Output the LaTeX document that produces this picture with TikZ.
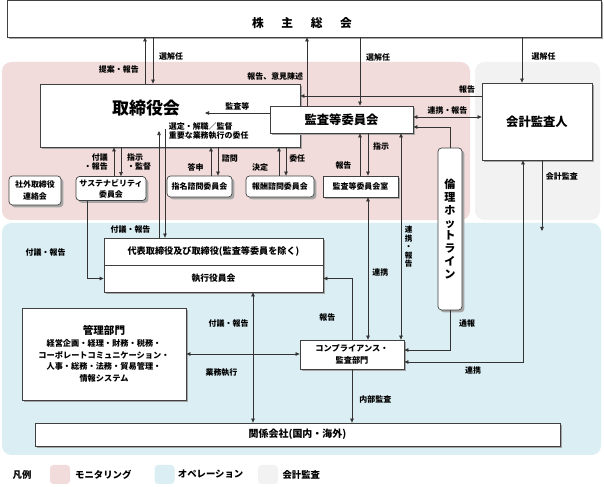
\documentclass[tikz,border=0pt]{standalone}
\usepackage{fontspec}
\setmainfont{Noto Sans CJK JP}
\usetikzlibrary{positioning}
\usetikzlibrary{arrows.meta}
\usetikzlibrary{shadows}
\definecolor{monfill}{HTML}{F2DCDB}
\definecolor{opefill}{HTML}{DAEEF3}
\definecolor{audfill}{HTML}{F2F2F2}
\newcommand{\fsz}[2]{\fontsize{#1}{#2}\selectfont\bfseries}
\tikzset{
    box/.style = {rectangle, draw=black!75, line width=0.6pt, fill=white, inner sep=0pt, align=center,
                  drop shadow={shadow xshift=2pt,shadow yshift=-2pt,opacity=1,fill=black!35}},
    rbox/.style = {box, rounded corners=3pt},
    sz/.style 2 args = {minimum width=#1*0.03cm, minimum height=#2*0.03cm},
    lbl/.style = {inner sep=1pt, align=center, font=\fsz{6.8}{8}},
    vlbl/.style = {inner sep=1pt, align=center, font=\fsz{6.5}{7.2}},
    lbl2/.style = {inner sep=1pt, font=\fsz{8}{9}},
    swatch/.style = {rectangle, rounded corners=3pt, minimum width=20*0.03cm, minimum height=19*0.03cm},
    edgen/.style = {-{Triangle[length=3.5pt,width=3pt]}, draw=black!80, line width=0.6pt},
    edged/.style = {{Triangle[length=3.5pt,width=3pt]}-{Triangle[length=3.5pt,width=3pt]}, draw=black!80, line width=0.6pt},
}
\begin{document}
\begin{tikzpicture}[x=0.03cm, y=-0.03cm]
\useasboundingbox (0,0) rectangle (604,487);
%
\path[fill=monfill, rounded corners=8pt] (2,62) rectangle (470,220);
\path[fill=audfill, rounded corners=8pt] (475,62) rectangle (600,220);
\path[fill=opefill, rounded corners=8pt] (2,223) rectangle (601,455);
%
\node[box, sz={594}{37}] at (304,18.5) (kabu) {};
\node[font=\fsz{10}{12}] at (302,23) (kabuT) {株\hspace{1.5em}主\hspace{1.5em}総\hspace{1.5em}会};
\node[box, sz={260}{63}] at (170,115.5) (tori) {};
\node[font=\fsz{14.5}{16}] at (146,108) (toriT) {取締役会};
\node[box, sz={143}{27}, font=\fsz{10.5}{12}] at (341.5,119.5) (kansa) {監査等委員会};
\node[box, sz={110}{77}, font=\fsz{10.5}{12}] at (537,121.5) (kaikei) {会計監査人};
%
\node[rbox, sz={52}{29}, font=\fsz{6.8}{10}] at (35,190.5) (shagai) {社外取締役\\連絡会};
\node[rbox, sz={70}{24}, font=\fsz{6.8}{9.5}] at (111,188.5) (sustain) {サステナビリティ\\委員会};
\node[rbox, sz={65}{21}, font=\fsz{6.8}{8}] at (199.5,186.5) (shimei) {指名諮問委員会};
\node[rbox, sz={68}{21}, font=\fsz{6.8}{8}] at (280,186.5) (houshu) {報酬諮問委員会};
\node[box, sz={75}{21}, font=\fsz{6.8}{8}] at (360.5,186.5) (kansashitsu) {監査等委員会室};
\node[rbox, sz={24}{162}, font=\fsz{9.5}{11}] at (450,229) (hotline) {倫\\理\\ホ\\ッ\\ト\\ラ\\イ\\ン};
%
\node[box, sz={219}{27}, font=\fsz{7.8}{9}] at (213.5,251.5) (daihyo) {代表取締役及び取締役(監査等委員を除く)};
\node[box, sz={219}{27}, font=\fsz{7.5}{9}] at (213.5,278.5) (shikkou) {執行役員会};
\node[box, sz={164}{92}, font=\fsz{7}{10}] at (104,354) (kanri) {{\fsz{9}{11}管理部門}\\経営企画・経理・財務・税務・\\コーポレートコミュニケーション・\\人事・総務・法務・貿易管理・\\情報システム};
\node[box, sz={104}{29}, font=\fsz{7}{10.8}] at (352,354.5) (comp) {コンプライアンス・\\監査部門};
\node[box, sz={525}{23}, font=\fsz{8.5}{10}] at (297.5,434.5) (kankei) {関係会社(国内・海外)};
%
\coordinate (toriIn) at (205,113);
\coordinate (toriUp) at (159,131);
\coordinate (toriDn) at (165,129);
\coordinate (kaAud) at (542,231);
%
\draw[edgen] (tori.north -| 145,0) -- node[lbl, left=4pt, pos=0.3] {提案・報告} (kabu.south -| 145,0);
\draw[edgen] (kabu.south -| 153,0) -- node[lbl, right=4pt, pos=0.42] {選解任} (tori.north -| 153,0);
\draw[edgen] (kansa.north -| 307,0) -- node[lbl, left=2pt, pos=0.43] {報告、意見陳述} (kabu.south -| 307,0);
\draw[edgen] (kabu.south -| 360,0) -- node[lbl, right=4pt, pos=0.29] {選解任} (kansa.north -| 360,0);
\draw[edgen] (kabu.south -| 522,0) -- node[lbl, right=7pt, pos=0.43] {選解任} (kaikei.north -| 522,0);
\draw[edgen] (kaikei.west |- 0,96) -- node[lbl, above=1pt, pos=0.08] {報告} (tori.east |- 0,96);
\draw[edged] (kansa.east |- 0,117) -- node[lbl, above=1pt] {連携・報告} (kaikei.west |- 0,117);
\draw[edgen] (hotline.north) |- (kansa.east |- 0,127);
\draw[edgen] (kansa.west |- toriIn) -- node[lbl, above=1pt] {監査等} (toriIn);
%
\draw[edgen] (sustain.north -| 114,0) -- node[lbl, left=4pt, align=right] {付議\\・報告} (tori.south -| 114,0);
\draw[edgen] (tori.south -| 121,0) -- node[lbl, right=4pt, align=left] {指示\\・監督} (sustain.north -| 121,0);
\draw[edgen] (toriDn) -- node[lbl, right=2pt, pos=0.02, align=left] {選定・解職／監督\\重要な業務執行の委任} (daihyo.north -| toriDn);
\draw[edgen] (daihyo.north -| toriUp) -- node[lbl, left=6pt, pos=0.08] {付議・報告} (toriUp);
\draw[edgen] (shimei.north -| 211,0) -- node[lbl, left=5pt, pos=0.3] {答申} (tori.south -| 211,0);
\draw[edgen] (tori.south -| 218,0) -- node[lbl, right=2pt, pos=0.38] {諮問} (shimei.north -| 218,0);
\draw[edgen] (houshu.north -| 279,0) -- node[lbl, left=8pt, pos=0.3] {決定} (tori.south -| 279,0);
\draw[edgen] (tori.south -| 286,0) -- node[lbl, right=1.5pt, pos=0.38] {委任} (houshu.north -| 286,0);
\draw[edgen] (kansa.south -| 368,0) -- node[lbl, right=3pt, pos=0.3] {指示} (kansashitsu.north -| 368,0);
\draw[edgen] (kansashitsu.north -| 360,0) -- node[lbl, left=6pt, pos=0.25] {報告} (kansa.south -| 360,0);
\draw[edged] (kansa.south -| 401,0) -- node[vlbl, right=2pt, pos=0.55] {連\\携\\・\\報\\告} (comp.north -| 401,0);
\draw[edged] (kansashitsu.south -| 368,0) -- node[lbl, right=2.5pt, pos=0.53] {連携} (comp.north -| 368,0);
%
\draw[edgen] (sustain.south -| 87,0) |- node[lbl, left=17pt, pos=0.33] {付議・報告} (shikkou.west);
\draw[edged] (shikkou.south -| 253,0) -- node[lbl, left=2.5pt, pos=0.24] {付議・報告} (kankei.north -| 253,0);
\draw[edged] (kanri.east) -- node[lbl, below=11pt, pos=0.31] {業務執行} (comp.west |- kanri.east);
\draw[edgen] (comp.north -| 352,0) |- node[lbl, left=13pt, pos=0.18] {報告} (shikkou.east);
\draw[edgen] (comp.south -| 352,0) -- node[lbl, right=5pt, pos=0.57] {内部監査} (kankei.north -| 352,0);
\draw[edgen] (hotline.south) |- node[lbl, right=6.5pt, pos=0.16] {通報} (comp.east |- 0,350);
\draw[edged] (comp.east |- 0,362) -| node[lbl, below=3pt, pos=0.29] {連携} (kaikei.south -| 523,0);
\draw[edgen] (kaikei.south -| 542,0) -- node[lbl, right=2pt, pos=0.23] {会計監査} (kaAud);
%
\node[lbl2] at (22,475) (hanrei) {凡例};
\node[swatch, fill=monfill] at (60,474.5) (sw1) {};
\node[lbl2, right=3pt of sw1] (lg1) {モニタリング};
\node[swatch, fill=opefill] at (164.5,474.5) (sw2) {};
\node[lbl2, right=1.5pt of sw2] (lg2) {オペレーション};
\node[swatch, fill=audfill] at (268,474.5) (sw3) {};
\node[lbl2, right=2.5pt of sw3] (lg3) {会計監査};
\end{tikzpicture}
\end{document}
